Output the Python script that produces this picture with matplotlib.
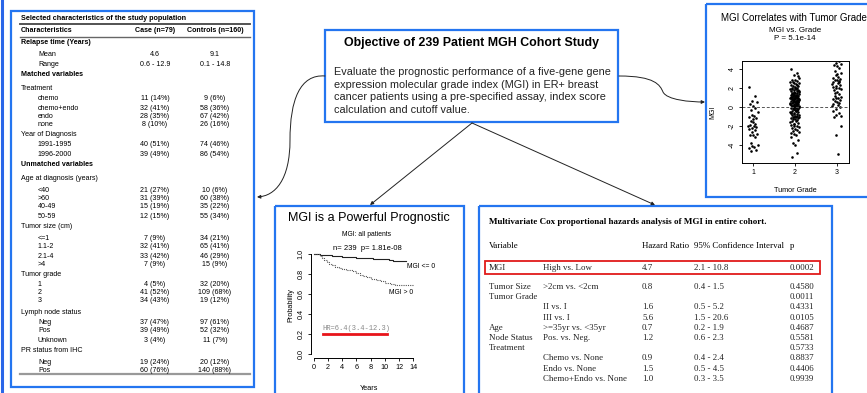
import matplotlib
matplotlib.use("Agg")
import matplotlib.pyplot as plt
from matplotlib.patches import Rectangle, FancyArrowPatch
from matplotlib.path import Path

# ---------------- data ----------------
# Table 1: characteristics (label, case, control, style)
t1_labels = ["Relapse time (Years)", "Mean", "Range", "Matched variables", "Treatment",
             "chemo", "chemo+endo", "endo", "none", "Year of Diagnosis", "1991-1995", "1996-2000",
             "Unmatched variables", "Age at diagnosis (years)", "<40", ">60", "40-49", "50-59",
             "Tumor size (cm)", "<=1", "1.1-2", "2.1-4", ">4", "Tumor grade", "1", "2", "3",
             "Lymph node status", "Neg", "Pos", "Unknown", "PR status from IHC", "Neg", "Pos"]
t1_case = ["", "4.6", "0.6 - 12.9", "", "", "11 (14%)", "32 (41%)", "28 (35%)", "8 (10%)", "",
           "40 (51%)", "39 (49%)", "", "", "21 (27%)", "31 (39%)", "15 (19%)", "12 (15%)", "",
           "7 (9%)", "32 (41%)", "33 (42%)", "7 (9%)", "", "4 (5%)", "41 (52%)", "34 (43%)", "",
           "37 (47%)", "39 (49%)", "3 (4%)", "", "19 (24%)", "60 (76%)"]
t1_ctrl = ["", "9.1", "0.1 - 14.8", "", "", "9 (6%)", "58 (36%)", "67 (42%)", "26 (16%)", "",
           "74 (46%)", "86 (54%)", "", "", "10 (6%)", "60 (38%)", "35 (22%)", "55 (34%)", "",
           "34 (21%)", "65 (41%)", "46 (29%)", "15 (9%)", "", "32 (20%)", "109 (68%)", "19 (12%)", "",
           "97 (61%)", "52 (32%)", "11 (7%)", "", "20 (12%)", "140 (88%)"]
t1_kind = ["b", "i", "i", "b", "h", "i", "i", "i", "i", "h", "i", "i", "b", "h", "i", "i", "i", "i",
           "h", "i", "i", "i", "i", "h", "i", "i", "i", "h", "i", "i", "i", "h", "i", "i"]

# Cox table
cox_var = ["MGI", "Tumor Size", "Tumor Grade", "", "", "Age", "Node Status", "Treatment", "", "", ""]
cox_comp = ["High vs. Low", ">2cm vs. <2cm", "", "II vs. I", "III vs. I", ">=35yr vs. <35yr",
            "Pos. vs. Neg.", "", "Chemo vs. None", "Endo vs. None", "Chemo+Endo vs. None"]
cox_hr = ["4.7", "0.8", "", "1.6", "5.6", "0.7", "1.2", "", "0.9", "1.5", "1.0"]
cox_ci = ["2.1 - 10.8", "0.4 - 1.5", "", "0.5 - 5.2", "1.5 - 20.6", "0.2 - 1.9", "0.6 - 2.3", "",
          "0.4 - 2.4", "0.5 - 4.5", "0.3 - 3.5"]
cox_p = ["0.0002", "0.4580", "0.0011", "0.4331", "0.0105", "0.4687", "0.5581", "0.5733",
         "0.8837", "0.4406", "0.9939"]

# Kaplan-Meier curves
km_low_t = [0, 0.8, 1.6, 2.5, 3.3, 4.0, 5.2, 6.0, 7.1, 8.3, 9.5, 10.6, 11.2, 13.0]
km_low_s = [1.0, 0.995, 0.99, 0.985, 0.98, 0.973, 0.968, 0.963, 0.958, 0.953, 0.948, 0.945, 0.93, 0.93]
km_high_t = [0, 0.9, 1.2, 1.5, 1.8, 2.1, 2.5, 3.0, 3.5, 4.0, 4.5, 5.0, 5.5, 6.0, 6.5, 7.0, 7.5,
             8.0, 8.8, 9.5, 10.0, 10.8, 11.5, 14.0]
km_high_s = [1.0, 0.98, 0.96, 0.94, 0.92, 0.90, 0.89, 0.875, 0.86, 0.855, 0.845, 0.84, 0.83, 0.81,
             0.79, 0.78, 0.77, 0.75, 0.74, 0.73, 0.715, 0.705, 0.69, 0.69]

# MGI by tumor grade
mgi_g1 = [2.1, 1.2, 0.6, 0.5, 0.3, 0.1, -0.1, -0.3, -0.5, -0.8,
          -0.9, -1.0, -1.2, -1.5, -1.6, -1.8, -1.9, -2.0, -2.0, -2.1,
          -2.2, -2.3, -2.4, -2.6, -2.8, -2.9, -3.0, -3.2, -3.8, -4.0,
          -4.1, -4.2, -4.3, -4.5, -4.6, -1.3]
mgi_g2 = [4.0, 3.6, 3.4, 3.1, 2.9, 2.8, 2.7, 2.6, 2.5, 2.5, 2.4, 2.3, 2.2, 2.2, 2.1,
          2.0, 2.0, 1.9, 1.9, 1.8, 1.8, 1.7, 1.7, 1.6, 1.6, 1.5, 1.5, 1.5, 1.4, 1.4,
          1.3, 1.3, 1.3, 1.2, 1.2, 1.2, 1.1, 1.1, 1.1, 1.0, 1.0, 1.0, 0.9, 0.9, 0.9,
          0.8, 0.8, 0.8, 0.7, 0.7, 0.7, 0.6, 0.6, 0.6, 0.5, 0.5, 0.5, 0.4, 0.4, 0.4,
          0.3, 0.3, 0.3, 0.2, 0.2, 0.2, 0.1, 0.1, 0.1, 0.0, 0.0, 0.0, -0.1, -0.1, -0.1,
          -0.2, -0.2, -0.3, -0.3, -0.4, -0.4, -0.5, -0.5, -0.6, -0.6, -0.7, -0.7, -0.8, -0.8, -0.9,
          -0.9, -1.0, -1.0, -1.1, -1.1, -1.2, -1.2, -1.3, -1.3, -1.4, -1.5, -1.5, -1.6, -1.7, -1.8,
          -1.9, -2.0, -2.0, -2.1, -2.2, -2.3, -2.4, -2.5, -2.6, -2.8, -3.0, -3.2, -3.5, -3.8, -4.0,
          -4.8, -5.3, 0.35, 0.45, 0.65, 0.85, 1.05, 1.25, 1.45, 1.65, 1.85, 2.05, 2.35, 0.15, -0.05,
          -0.25, -0.45, -0.65, 0.55, 0.75, 0.95, 1.15, 1.35, 0.25, 2.65, 3.3, -1.75, -2.7, -0.35, 0.05]
mgi_g3 = [5.2, 4.8, 4.6, 4.5, 4.4, 4.3, 4.1, 3.8, 3.6, 3.4,
          3.2, 3.1, 3.0, 2.9, 2.8, 2.7, 2.6, 2.5, 2.4, 2.3,
          2.2, 2.1, 2.0, 2.0, 1.9, 1.8, 1.6, 1.4, 1.2, 1.1,
          1.0, 0.9, 0.8, 0.7, 0.6, 0.5, 0.4, 0.3, 0.2, 0.1,
          0.0, -0.2, -0.4, -0.6, -0.8, -0.9, -1.1, 3.5, 2.6, 1.5,
          -2.0, -3.0, -4.9]
grades = [1, 2, 3]

# ---------------- layout ----------------
W, H = 867, 393
BLUE = "#2475f0"
fig = plt.figure(figsize=(W / 100, H / 100), dpi=100)
fig.patch.set_facecolor("white")
ov = fig.add_axes([0, 0, 1, 1])
ov.set_xlim(0, W)
ov.set_ylim(H, 0)
ov.axis("off")

def box(x0, y0, x1, y1, color=BLUE, lw=1.6):
    ov.add_patch(Rectangle((x0, y0), x1 - x0, y1 - y0, fill=False, ec=color, lw=lw, clip_on=False))

# left edge stripe
ov.plot([1.5, 1.5], [0, H], color="#2a66e8", lw=2.2)

# boxes
box(11, 11, 254, 387)
box(325, 30, 618, 122)
box(706, 4, 875, 197)
box(275, 206, 464, 402)
box(479, 206, 832, 402)

# ---------- Table 1 ----------
SANS = "Liberation Sans"
FS1 = 5.1
ov.text(21, 19, "Selected characteristics of the study population", fontsize=5.2, fontweight="bold",
        family=SANS, va="center")
ov.plot([20, 250], [24, 24], color="#444444", lw=1.3)
ov.text(21, 31, "Characteristics", fontsize=FS1, fontweight="bold", family=SANS, va="center")
ov.text(155, 31, "Case (n=79)", fontsize=FS1, fontweight="bold", family=SANS, va="center", ha="center")
ov.text(215, 31, "Controls (n=160)", fontsize=FS1, fontweight="bold", family=SANS, va="center", ha="center")
ov.plot([20, 250], [37, 37], color="#666666", lw=1.0)
row_y = [43, 55, 64, 75, 88, 99, 108, 117, 125, 135, 145, 154, 165, 179, 190, 198, 207, 216,
         227, 238, 247, 256, 264, 274, 284, 293, 301, 312, 322, 331, 340, 351, 362, 370]
for lab, ca, co, k, y in zip(t1_labels, t1_case, t1_ctrl, t1_kind, row_y):
    x = 38 if k == "i" else 21
    ov.text(x, y, lab, fontsize=FS1, family=SANS, va="center",
            fontweight="bold" if k == "b" else "normal")
    if ca:
        ov.text(155, y, ca, fontsize=FS1, family=SANS, va="center", ha="center")
        ov.text(215, y, co, fontsize=FS1, family=SANS, va="center", ha="center")
ov.plot([20, 250], [374, 374], color="#999999", lw=1.6)

# ---------- Objective box ----------
ov.text(472, 43, "Objective of 239 Patient MGH Cohort Study", fontsize=8.9, fontweight="bold",
        family=SANS, ha="center", va="center")
obj_lines = ["Evaluate the prognostic performance of a five-gene gene",
             "expression molecular grade index (MGI) in ER+ breast",
             "cancer patients using a pre-specified assay, index score",
             "calculation and cutoff value."]
for i, l in enumerate(obj_lines):
    ov.text(334, 72 + 12.6 * i, l, fontsize=7.85, family=SANS, va="center", color="#222222")

# ---------- arrows ----------
def curve_arrow(verts, codes):
    p = Path(verts, codes)
    a = FancyArrowPatch(path=p, arrowstyle="-|>", mutation_scale=5, color="#222222", lw=0.7)
    ov.add_patch(a)

C = Path.CURVE4
curve_arrow([(325, 76), (300, 74), (290, 100), (290, 140), (290, 180), (275, 196), (257, 197)],
            [Path.MOVETO, C, C, C, C, C, C])
curve_arrow([(619, 76), (655, 76), (660, 85), (663, 92), (667, 100), (690, 102), (705, 102)],
            [Path.MOVETO, C, C, C, C, C, C])
curve_arrow([(472, 123), (370, 205)], [Path.MOVETO, Path.LINETO])
curve_arrow([(472, 123), (655, 205)], [Path.MOVETO, Path.LINETO])

# ---------- Scatter panel ----------
ov.text(721, 18, "MGI Correlates with Tumor Grade", fontsize=7.0, family=SANS, va="center", ha="left")
ov.text(795, 30, "MGI vs. Grade", fontsize=5.8, family=SANS, va="center", ha="center")
ov.text(795, 39, "P = 5.1e-14", fontsize=5.8, family=SANS, va="center", ha="center")
ax = fig.add_axes([742 / W, 1 - 163 / H, 107 / W, 102 / H])
jit = [-0.10, 0.04, -0.03, 0.09, -0.07, 0.01, 0.06, -0.05, 0.11, -0.01,
       0.03, -0.09, 0.08, -0.04, 0.00, 0.05, -0.08, 0.02, -0.11, 0.07, -0.02]
for g, vals in zip(grades, [mgi_g1, mgi_g2, mgi_g3]):
    xs = [g + jit[i % len(jit)] for i in range(len(vals))]
    ax.scatter(xs, vals, s=3.5, color="black", linewidths=0)
ax.axhline(0, color="#555555", lw=0.7, ls=(0, (3, 2)))
ax.set_xlim(0.74, 3.29)
ax.set_ylim(-5.9, 4.85)
ax.set_xticks(grades)
ax.set_xticklabels([str(g) for g in grades], fontsize=5, family=SANS)
ax.set_yticks([-4, -2, 0, 2, 4])
ax.set_yticklabels(["-4", "-2", "0", "2", "4"], fontsize=5, family=SANS, rotation=90, va="center")
ax.tick_params(length=2.5, width=0.6, pad=2)
for s in ax.spines.values():
    s.set_linewidth(0.7)
ov.text(795, 191, "Tumor Grade", fontsize=5.2, family=SANS, ha="center", va="center")
ov.text(713, 112, "MGI", fontsize=5, family=SANS, ha="center", va="center", rotation=90)

# ---------- KM panel ----------
ov.text(369, 218, "MGI is a Powerful Prognostic", fontsize=9.0, family=SANS, ha="center", va="center")
ov.text(367, 235, "MGI: all patients", fontsize=4.9, family=SANS, ha="center", va="center")
ov.text(367, 248, "n= 239  p= 1.81e-08", fontsize=5.5, family=SANS, ha="center", va="center")
km = fig.add_axes([311 / W, 1 - 358 / H, 105 / W, 108 / H])
km.step(km_low_t, km_low_s, where="post", color="#222222", lw=0.8)
km.step(km_high_t, km_high_s, where="post", color="#555555", lw=0.8, ls=(0, (1, 1)))
km.set_xlim(-0.4, 14.4)
km.set_ylim(-0.04, 1.04)
km.spines["top"].set_visible(False)
km.spines["right"].set_visible(False)
km.spines["left"].set_bounds(0, 1)
km.spines["bottom"].set_bounds(0, 14)
km.spines["left"].set_linewidth(0.7)
km.spines["bottom"].set_linewidth(0.7)
km.set_xticks([0, 2, 4, 6, 8, 10, 12, 14])
km.set_xticklabels(["0", "2", "4", "6", "8", "10", "12", "14"], fontsize=5.2, family=SANS)
km.set_yticks([0, 0.2, 0.4, 0.6, 0.8, 1.0])
km.set_yticklabels(["0.0", "0.2", "0.4", "0.6", "0.8", "1.0"], fontsize=5.2, family=SANS,
                   rotation=90, va="center")
km.tick_params(length=2.5, width=0.6, pad=2)
km.patch.set_alpha(0)
ov.text(407, 267, "MGI <= 0", fontsize=4.9, family=SANS, va="center")
ov.text(389, 293, "MGI > 0", fontsize=4.9, family=SANS, va="center")
ov.text(322, 328, "HR=6.4(3.4-12.3)", fontsize=5.1, family="Liberation Mono", va="center", color="#888888")
ov.plot([323, 387], [334, 334], color="#e8141a", lw=2)
ov.text(369, 388, "Years", fontsize=5.2, family=SANS, ha="center", va="center")
ov.text(291, 305, "Probability", fontsize=5.2, family=SANS, ha="center", va="center", rotation=90)

# ---------- Cox table ----------
SERIF = "Liberation Serif"
FS2 = 6.4
ov.text(489, 222, "Multivariate Cox proportional hazards analysis of MGI in entire cohort.",
        fontsize=6.5, fontweight="bold", family=SERIF, va="center")
cx = [489, 543, 642, 694, 790]
ov.text(cx[0], 246, "Variable", fontsize=FS2, family=SERIF, va="center")
ov.text(cx[2], 246, "Hazard Ratio", fontsize=FS2, family=SERIF, va="center")
ov.text(cx[3], 246, "95% Confidence Interval", fontsize=FS2, family=SERIF, va="center")
ov.text(cx[4], 246, "p", fontsize=FS2, family=SERIF, va="center")
ov.add_patch(Rectangle((485, 261), 335, 13, fill=False, ec="#e01a1a", lw=1.3))
cox_y = [268, 287, 297.2, 307.4, 317.6, 327.8, 338, 348.2, 358.4, 368.6, 378.8]
for vals, y in zip(zip(cox_var, cox_comp, cox_hr, cox_ci, cox_p), cox_y):
    for x, v in zip(cx, vals):
        if v:
            ov.text(x, y, v, fontsize=FS2, family=SERIF, va="center", color="#222222")

fig.savefig("out.png", dpi=100, facecolor="white")
